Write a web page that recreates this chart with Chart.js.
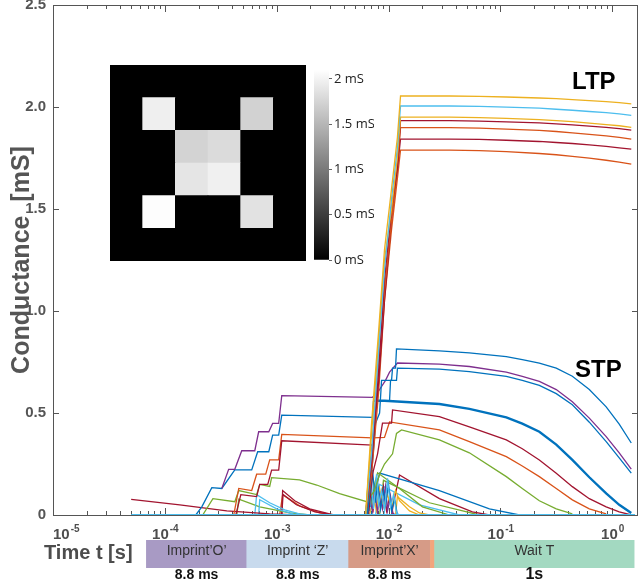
<!DOCTYPE html>
<html lang="en">
<head>
<meta charset="UTF-8">
<title>Conductance during imprint and wait</title>
<script src="https://cdn.jsdelivr.net/npm/chart.js@4.4.1/dist/chart.umd.min.js"></script>
<style>
  body { margin: 0; background: #fff; font-family: 'Liberation Sans', Arial, sans-serif; }
  #wrap { position: relative; width: 640px; height: 581px; overflow: hidden; background: #fff; }
  canvas { position: absolute; }
  .tag { position: absolute; font-weight: bold; font-size: 24px; line-height: 24px; color: #000; }
  #tlabel { position: absolute; left: 44px; top: 540px; font-weight: bold; font-size: 20px; line-height: 24px; color: #4d4d4d; }
</style>
</head>
<body>
<div id="wrap">
  <canvas id="main" width="640" height="581" style="left:0;top:0"></canvas>
  <canvas id="phase" width="640" height="43" style="left:0;top:538px"></canvas>
  <canvas id="heat" width="196" height="196" style="left:110px;top:65px;background:#000"></canvas>
  <canvas id="cbar" width="60" height="212" style="left:314px;top:60px"></canvas>
  <div class="tag" style="left:572px;top:69px">LTP</div>
  <div class="tag" style="left:575px;top:357px">STP</div>
  <div id="tlabel">Time t [s]</div>
</div>
<script>
// MATLAB line colours
const C = { blue: '#0072BD', orange: '#D95319', yellow: '#EDB120', purple: '#7E2F8E',
            green: '#77AC30', lblue: '#4DBEEE', red: '#A2142F' };

// --- LTP group: imprint-X rise then the 1 s wait (times in s)
const tRise = [6.24e-3, 7.05e-3, 8.15e-3, 9.2e-3, 1.064e-2, 1.2e-2, 1.28e-2,
               1.306e-2, 3.51e-2, 6.49e-2, 0.113, 0.223, 0.316, 0.44, 0.624, 0.883, 1.155, 1.48];
const ltpYellowA   = [0, 0.45, 0.9, 1.3, 1.6, 1.85, 2.054, 2.054, 2.054, 2.052, 2.049, 2.044, 2.041, 2.036, 2.031, 2.026, 2.021, 2.015];
const ltpLightBlue = [0, 0.3, 0.8, 1.2, 1.55, 1.8, 2.005, 2.005, 2.005, 2.003, 1.999, 1.994, 1.989, 1.984, 1.978, 1.972, 1.966, 1.959];
const ltpYellowB   = [0, 0.4, 0.85, 1.25, 1.5, 1.75, 1.95, 1.95, 1.95, 1.948, 1.944, 1.938, 1.933, 1.928, 1.921, 1.914, 1.908, 1.90];
const ltpRedA      = [0, 0.25, 0.7, 1.15, 1.5, 1.7, 1.933, 1.933, 1.933, 1.931, 1.927, 1.922, 1.917, 1.912, 1.906, 1.90, 1.894, 1.887];
const ltpOrangeA   = [0, 0.3, 0.75, 1.1, 1.45, 1.7, 1.899, 1.899, 1.899, 1.896, 1.892, 1.885, 1.88, 1.873, 1.866, 1.858, 1.851, 1.842];
const ltpOrangeB   = [0, 0.2, 0.6, 1.05, 1.4, 1.65, 1.789, 1.789, 1.789, 1.786, 1.781, 1.772, 1.766, 1.758, 1.749, 1.739, 1.73, 1.72];
const tRedB = [4.31e-4, 4.78e-4, 6.62e-4, 7.05e-4, 8.32e-4, 9.01e-4, 1.042e-3, 1.11e-3,
               7.19e-3, 8.15e-3, 9.2e-3, 1.064e-2, 1.2e-2, 1.28e-2,
               1.306e-2, 3.51e-2, 6.49e-2, 0.113, 0.223, 0.316, 0.44, 0.624, 0.883, 1.155, 1.48];
const ltpRedB = [0, 0.1, 0.09, 0.15, 0.15, 0.22, 0.22, 0.364,
                 0.343, 0.65, 1.05, 1.45, 1.7, 1.843,
                 1.843, 1.843, 1.841, 1.837, 1.831, 1.826, 1.821, 1.814, 1.807, 1.80, 1.793];

// --- STP group
const tBlueTop = [6.49e-3, 7.05e-3, 7.65e-3, 8.32e-3, 8.66e-3, 1.064e-2, 1.086e-2, 1.155e-2, 1.178e-2,
                  2.85e-2, 5.28e-2, 0.113, 0.157, 0.223, 0.316, 0.44, 0.624, 0.883, 1.155, 1.48];
const stpBlueTop = [0, 0.2, 0.45, 0.5, 0.66, 0.66, 0.72, 0.72, 0.814,
                    0.805, 0.795, 0.776, 0.762, 0.745, 0.72, 0.68, 0.615, 0.53, 0.445, 0.353];
const tPurple = [3.23e-4, 3.72e-4, 4.22e-4, 4.87e-4, 6.37e-4, 6.90e-4, 8.50e-4, 9.20e-4, 1.042e-3, 1.11e-3,
                 7.19e-3, 7.98e-3, 9.40e-3, 1.021e-2, 1.202e-2,
                 2.85e-2, 5.28e-2, 0.113, 0.157, 0.223, 0.316, 0.44, 0.624, 0.883, 1.155, 1.48];
const stpPurple = [0.13, 0.224, 0.224, 0.315, 0.315, 0.408, 0.408, 0.449, 0.449, 0.585,
                   0.577, 0.6, 0.66, 0.70, 0.745,
                   0.74, 0.728, 0.70, 0.68, 0.655, 0.615, 0.555, 0.475, 0.384, 0.305, 0.225];
const tBlueB = [6.37e-3, 6.90e-3, 7.50e-3, 7.81e-3, 1.021e-2, 1.042e-2, 1.178e-2, 1.202e-2,
                2.85e-2, 5.28e-2, 0.113, 0.157, 0.223, 0.316, 0.44, 0.624, 0.883, 1.155, 1.48];
const stpBlueB = [0, 0.25, 0.45, 0.56, 0.56, 0.66, 0.66, 0.72,
                  0.715, 0.703, 0.68, 0.66, 0.635, 0.595, 0.54, 0.455, 0.36, 0.28, 0.205];
const tBlueStair = [1.89e-4, 2.14e-4, 2.63e-4, 3.23e-4, 4.22e-4, 5.98e-4, 6.76e-4, 8.50e-4, 9.20e-4, 1.042e-3, 1.11e-3, 7.19e-3, 7.34e-3];
const stpBlueStair = [0, 0.04, 0.134, 0.13, 0.221, 0.221, 0.31, 0.31, 0.392, 0.392, 0.49, 0.479, 0.56];
const tBlueDecay = [7.34e-3, 9.2e-3, 2.85e-2, 5.28e-2, 0.113, 0.157, 0.223, 0.316, 0.44, 0.624, 0.883, 1.155, 1.48];
const stpBlueDecay = [0.56, 0.56, 0.544, 0.52, 0.479, 0.448, 0.408, 0.345, 0.27, 0.185, 0.106, 0.05, 0.01];
const tRedStp = [6.62e-3, 7.19e-3, 7.98e-3, 8.83e-3, 1.064e-2, 1.086e-2,
                 2.85e-2, 5.28e-2, 0.113, 0.157, 0.223, 0.316, 0.44, 0.624, 0.883, 1.155, 1.48];
const stpRed = [0, 0.2, 0.3, 0.45, 0.45, 0.515,
                0.482, 0.432, 0.368, 0.325, 0.27, 0.205, 0.139, 0.08, 0.04, 0.015, 0.0];
const tOrangeStair = [4.13e-4, 4.58e-4, 5.98e-4, 6.62e-4, 7.98e-4, 8.66e-4, 1.042e-3, 1.11e-3, 7.19e-3, 9.2e-3, 1.021e-2,
                      2.85e-2, 5.28e-2, 0.113, 0.157, 0.223, 0.316, 0.44, 0.624, 0.883];
const stpOrangeStair = [0, 0.13, 0.12, 0.2, 0.2, 0.27, 0.27, 0.395, 0.378, 0.38, 0.456,
                        0.417, 0.36, 0.286, 0.24, 0.188, 0.13, 0.074, 0.03, 0.005];
const tGreenStair = [2.18e-4, 2.69e-4, 4.22e-4, 4.58e-4, 6.62e-4, 7.05e-4, 8.66e-4, 9.01e-4, 1.60e-3, 2.28e-3, 3.65e-3, 6.37e-3,
                     7.50e-3, 8.32e-3, 9.2e-3, 1.086e-2, 1.178e-2, 1.306e-2, 2.85e-2, 5.28e-2, 0.113, 0.157, 0.223, 0.316, 0.44];
const stpGreenStair = [0, 0.08, 0.065, 0.12, 0.1, 0.15, 0.14, 0.183, 0.172, 0.147, 0.105, 0.065,
                       0.12, 0.2, 0.25, 0.3, 0.4, 0.417, 0.368, 0.305, 0.188, 0.13, 0.07, 0.03, 0.005];

// --- small traces near zero
const tBase = [5.0e-5, 1.6];          const vBase = [0, 0];
const tRedLong = [5.0e-5, 1.36e-4, 3.58e-4, 8.66e-4, 1.60e-3];  const vRedLong = [0.077, 0.05, 0.02, 0.006, 0];
const tLbA = [6.37e-4, 6.62e-4, 8.66e-4, 1.18e-3, 1.60e-3, 1.97e-3];  const vLbA = [0, 0.1, 0.06, 0.025, 0.005, 0];
const tLbB = [6.9e-4, 7.05e-4, 1.0e-3, 1.5e-3];  const vLbB = [0, 0.075, 0.03, 0];
const tGrA = [4.40e-4, 4.58e-4, 7.05e-4, 1.31e-3, 1.97e-3];  const vGrA = [0, 0.078, 0.04, 0.01, 0];
const tRedA = [1.11e-3, 1.13e-3, 1.45e-3, 1.97e-3, 2.97e-3];  const vRedA = [0, 0.12, 0.07, 0.03, 0.005];
const tRedA2 = [1.11e-3, 1.14e-3, 1.5e-3, 2.2e-3, 3.3e-3];    const vRedA2 = [0, 0.1, 0.05, 0.015, 0];
const tOrA = [1.064e-3, 1.13e-3, 1.60e-3, 2.42e-3, 3.30e-3];   const vOrA = [0, 0.1, 0.045, 0.01, 0];
const tNzLb = [6.24e-3, 6.49e-3, 6.76e-3, 7.05e-3, 7.34e-3, 7.81e-3, 8.15e-3, 8.66e-3, 9.2e-3, 9.79e-3, 1.042e-2, 1.11e-2, 1.178e-2, 1.253e-2];
const vNzLb = [0, 0.1, 0.02, 0.15, 0.03, 0.2, 0.05, 0.12, 0.02, 0.18, 0.04, 0.1, 0.01, 0];
const tNzBlue = [6.37e-3, 6.62e-3, 6.90e-3, 7.19e-3, 7.65e-3, 7.98e-3, 8.50e-3, 9.01e-3, 9.40e-3, 1.0e-2, 1.064e-2, 1.133e-2, 1.2e-2];
const vNzBlue = [0, 0.14, 0.04, 0.22, 0.06, 0.16, 0.03, 0.12, 0.05, 0.15, 0.02, 0.08, 0];
const tNzPurple = [6.49e-3, 6.76e-3, 7.19e-3, 7.50e-3, 7.98e-3, 8.32e-3, 8.83e-3, 9.40e-3, 9.79e-3, 1.042e-2, 1.086e-2, 1.155e-2];
const vNzPurple = [0, 0.08, 0.02, 0.12, 0.01, 0.1, 0.03, 0.14, 0.02, 0.09, 0.01, 0];
const tNzYellow = [6.76e-3, 7.34e-3, 7.81e-3, 8.32e-3, 9.01e-3, 9.79e-3, 1.064e-2, 1.155e-2, 1.253e-2, 1.54e-2, 1.89e-2];
const vNzYellow = [0, 0.09, 0.02, 0.13, 0.04, 0.1, 0.03, 0.12, 0.07, 0.02, 0];
const tNzGreen = [6.24e-3, 6.62e-3, 7.05e-3, 7.50e-3, 7.98e-3, 1.253e-2, 2.01e-2, 3.51e-2];
const vNzGreen = [0, 0.18, 0.05, 0.15, 0.207, 0.13, 0.04, 0];
const tNzRed = [6.5e-3, 6.9e-3, 7.3e-3, 7.8e-3, 8.4e-3, 9.0e-3, 9.6e-3, 1.03e-2, 1.1e-2];
const vNzRed = [0, 0.12, 0.03, 0.17, 0.05, 0.14, 0.02, 0.1, 0];
const tBlueSm = [7.05e-3, 7.50e-3, 8.32e-3, 2.85e-2, 7.98e-2, 0.148];   const vBlueSm = [0, 0.1, 0.205, 0.12, 0.03, 0];
const tRedSm = [1.064e-2, 1.11e-2, 1.253e-2, 2.85e-2, 5.62e-2, 7.98e-2]; const vRedSm = [0, 0.06, 0.196, 0.08, 0.015, 0];
const tLbSm = [7.65e-3, 8.32e-3, 1.89e-2, 4.31e-2];                   const vLbSm = [0, 0.15, 0.05, 0];
const tYelSm = [1.155e-2, 1.2e-2, 1.54e-2, 1.89e-2, 2.32e-2];          const vYelSm = [0, 0.09, 0.04, 0.01, 0];
const tGrSm = [8.32e-3, 9.01e-3, 2.32e-2, 6.49e-2];                    const vGrSm = [0, 0.17, 0.06, 0];

// --- protocol bar under the axis
const phaseNames   = ['Imprint\u2019O\u2019', 'Imprint \u2018Z\u2019', 'Imprint\u2019X\u2019', '', 'Wait T'];
const phaseFrom    = [6.84e-5, 5.4e-4, 4.4e-3, 2.37e-2, 2.58e-2];
const phaseTo      = [5.4e-4, 4.4e-3, 2.37e-2, 2.58e-2, 1.57];
const phaseLengths = ['8.8 ms', '8.8 ms', '8.8 ms', '', '1s'];
const phaseColors  = ['#a89ac4', '#c8daed', '#d69b87', '#f2a57c', '#a3d9c1'];

// --- inset conductance map (mS), rows top to bottom
const heatCols = ['1', '2', '3', '4', '5', '6'];
const heatRows = [
  [0, 0, 0, 0, 0, 0],
  [0, 1.97, 0, 0, 1.73, 0],
  [0, 0, 1.74, 1.80, 0, 0],
  [0, 0, 1.89, 1.98, 0, 0],
  [0, 2.08, 0, 0, 1.86, 0],
  [0, 0, 0, 0, 0, 0]
];
const cbarMax = 2.1;

Chart.defaults.font.family = "'Liberation Sans', Arial, sans-serif";

function trace(ts, vs, color, width) {
  return {
    data: ts.map((t, i) => ({ x: t, y: vs[i] })),
    borderColor: color, borderWidth: width || 1.3,
    pointRadius: 0, tension: 0, fill: false
  };
}

// box, inward tick marks and 10^n labels, MATLAB style
const axisBox = {
  id: 'axisBox',
  beforeDatasetsDraw(chart) {
    const { ctx, chartArea: a, scales: { x, y } } = chart;
    ctx.save();
    ctx.strokeStyle = '#555';
    ctx.lineWidth = 1;
    ctx.strokeRect(a.left + 0.5, a.top + 0.5, a.right - a.left - 1, a.bottom - a.top);
    ctx.beginPath();
    x.ticks.forEach(tk => {
      const e = Math.floor(Math.log10(tk.value) + 1e-9);
      const m = tk.value / Math.pow(10, e);
      if (Math.abs(m - Math.round(m)) > 1e-6) return;
      const px = Math.round(x.getPixelForValue(tk.value)) + 0.5;
      const len = Math.abs(m - 1) < 1e-6 ? 7 : 4;
      ctx.moveTo(px, a.bottom); ctx.lineTo(px, a.bottom - len);
      ctx.moveTo(px, a.top); ctx.lineTo(px, a.top + len);
    });
    y.ticks.forEach(tk => {
      const py = Math.round(y.getPixelForValue(tk.value)) + 0.5;
      ctx.moveTo(a.left, py); ctx.lineTo(a.left + 6, py);
      ctx.moveTo(a.right, py); ctx.lineTo(a.right - 6, py);
    });
    ctx.stroke();
    ctx.restore();
  },
  afterDraw(chart) {
    const { ctx, chartArea: a, scales: { x } } = chart;
    ctx.save();
    ctx.fillStyle = '#4d4d4d';
    ctx.textBaseline = 'alphabetic';
    x.ticks.forEach(tk => {
      const e = Math.round(Math.log10(tk.value));
      if (Math.abs(tk.value / Math.pow(10, e) - 1) > 1e-6) return;
      const px = x.getPixelForValue(tk.value);
      const exp = e < 0 ? '-' + (-e) : String(e);
      ctx.font = "bold 15px 'Liberation Sans'";
      const w1 = ctx.measureText('10').width;
      ctx.font = "bold 10px 'Liberation Sans'";
      const w2 = ctx.measureText(exp).width;
      const x0 = Math.max(px - (w1 + w2) / 2, a.left);
      ctx.font = "bold 15px 'Liberation Sans'";
      ctx.fillText('10', x0, a.bottom + 24);
      ctx.font = "bold 10px 'Liberation Sans'";
      ctx.fillText(exp, x0 + w1 + 1, a.bottom + 17);
    });
    ctx.restore();
  }
};

new Chart(document.getElementById('main'), {
  type: 'line',
  data: {
    datasets: [
      trace(tBase, vBase, C.lblue, 2),
      trace(tRise, ltpYellowA, C.yellow),
      trace(tRise, ltpLightBlue, C.lblue),
      trace(tRise, ltpYellowB, C.yellow),
      trace(tRise, ltpRedA, C.red),
      trace(tRise, ltpOrangeA, C.orange),
      trace(tRedB, ltpRedB, C.red),
      trace(tRise, ltpOrangeB, C.orange),
      trace(tBlueTop, stpBlueTop, C.blue),
      trace(tPurple, stpPurple, C.purple),
      trace(tBlueB, stpBlueB, C.blue),
      trace(tBlueStair, stpBlueStair, C.blue),
      trace(tBlueDecay, stpBlueDecay, C.blue, 2.4),
      trace(tRedStp, stpRed, C.red),
      trace(tOrangeStair, stpOrangeStair, C.orange),
      trace(tGreenStair, stpGreenStair, C.green),
      trace(tNzLb, vNzLb, C.lblue),
      trace(tNzBlue, vNzBlue, C.blue),
      trace(tNzPurple, vNzPurple, C.purple),
      trace(tNzYellow, vNzYellow, C.yellow),
      trace(tNzGreen, vNzGreen, C.green),
      trace(tNzRed, vNzRed, C.red),
      trace(tBlueSm, vBlueSm, C.blue),
      trace(tRedSm, vRedSm, C.red),
      trace(tLbSm, vLbSm, C.lblue),
      trace(tYelSm, vYelSm, C.yellow),
      trace(tGrSm, vGrSm, C.green),
      trace(tRedLong, vRedLong, C.red),
      trace(tLbA, vLbA, C.lblue),
      trace(tLbB, vLbB, C.lblue),
      trace(tGrA, vGrA, C.green),
      trace(tRedA, vRedA, C.red),
      trace(tRedA2, vRedA2, C.red),
      trace(tOrA, vOrA, C.orange)
    ]
  },
  options: {
    responsive: false,
    animation: false,
    events: [],
    layout: { padding: { top: 5, right: 2, left: 0, bottom: 0 } },
    plugins: { legend: { display: false }, tooltip: { enabled: false } },
    scales: {
      x: {
        type: 'logarithmic', min: 1e-5, max: 1.7,
        grid: { display: false, drawTicks: false },
        border: { display: false },
        ticks: { display: false },
        afterFit: s => { s.height = 66; s.paddingLeft = 0; s.paddingRight = 0; }
      },
      y: {
        min: 0, max: 2.5,
        grid: { display: false, drawTicks: false },
        border: { display: false },
        ticks: {
          stepSize: 0.5, padding: 7, color: '#555',
          font: { weight: 'bold', size: 15 },
          callback: v => v === 0 ? '0' : v.toFixed(1)
        },
        title: {
          display: true, text: 'Conductance  [mS]', color: '#555',
          font: { weight: 'bold', size: 25 }, padding: { top: 7, bottom: 0 }
        },
        afterFit: s => { s.width = 53; s.paddingTop = 0; s.paddingBottom = 0; }
      }
    }
  },
  plugins: [axisBox]
});

// protocol labels inside and under each block
const phaseText = {
  id: 'phaseText',
  afterDatasetsDraw(chart) {
    const { ctx } = chart;
    const meta = chart.getDatasetMeta(0);
    ctx.save();
    ctx.textAlign = 'center';
    ctx.textBaseline = 'middle';
    meta.data.forEach((el, i) => {
      const cx = (el.x + el.base) / 2;
      ctx.fillStyle = '#333';
      ctx.font = "14px 'Liberation Sans Narrow', 'Liberation Sans'";
      if (phaseNames[i]) ctx.fillText(phaseNames[i], cx, el.y - 3);
      ctx.fillStyle = '#111';
      ctx.font = i === 4 ? "bold 16px 'Liberation Sans'" : "bold 14px 'Liberation Sans'";
      if (phaseLengths[i]) ctx.fillText(phaseLengths[i], cx, 37);
    });
    ctx.restore();
  }
};

new Chart(document.getElementById('phase'), {
  type: 'bar',
  data: {
    labels: ['run'],
    datasets: [{
      data: phaseFrom.map((a, i) => ({ x: [a, phaseTo[i]], y: 'run' })),
      backgroundColor: phaseColors, borderWidth: 0,
      barPercentage: 1, categoryPercentage: 1
    }]
  },
  options: {
    indexAxis: 'y',
    responsive: false, animation: false, events: [],
    layout: { padding: { left: 53, right: 2, top: 2, bottom: 13 } },
    plugins: { legend: { display: false }, tooltip: { enabled: false } },
    scales: {
      x: { type: 'logarithmic', min: 1e-5, max: 1.7, display: false },
      y: { display: false }
    }
  },
  plugins: [phaseText]
});

// inset: 6x6 map as stacked cells
const grayOf = v => {
  const g = Math.round(Math.min(v / cbarMax, 1) * 255);
  return 'rgb(' + g + ',' + g + ',' + g + ')';
};
new Chart(document.getElementById('heat'), {
  type: 'bar',
  data: {
    labels: heatCols,
    datasets: heatRows.slice().reverse().map(r => ({
      data: r.map(() => 1), backgroundColor: r.map(grayOf),
      borderWidth: 0, barPercentage: 1, categoryPercentage: 1
    }))
  },
  options: {
    responsive: false, animation: false, events: [],
    plugins: { legend: { display: false }, tooltip: { enabled: false } },
    scales: {
      x: { display: false, stacked: true },
      y: { display: false, stacked: true, min: 0, max: 6 }
    }
  }
});

// colour bar
new Chart(document.getElementById('cbar'), {
  type: 'bar',
  data: {
    labels: ['c'],
    datasets: [{
      data: [cbarMax],
      backgroundColor: ctx => {
        const a = ctx.chart.chartArea;
        if (!a) return '#888';
        const g = ctx.chart.ctx.createLinearGradient(0, a.bottom, 0, a.top);
        g.addColorStop(0, '#000');
        g.addColorStop(1, '#fff');
        return g;
      },
      borderWidth: 0, barPercentage: 1, categoryPercentage: 1
    }]
  },
  options: {
    responsive: false, animation: false, events: [],
    layout: { padding: { top: 6, bottom: 12, left: 0, right: 0 } },
    plugins: { legend: { display: false }, tooltip: { enabled: false } },
    scales: {
      x: { display: false },
      y: {
        position: 'right', min: 0, max: cbarMax,
        afterFit: s => { s.width = 45; },
        grid: { drawOnChartArea: false, tickLength: 3, color: '#666' },
        border: { display: false },
        ticks: {
          stepSize: 0.5, includeBounds: false, padding: 2, color: '#222',
          font: { family: "'Open Sans'", size: 13 },
          callback: v => v + ' mS'
        }
      }
    }
  }
});
</script>
</body>
</html>
